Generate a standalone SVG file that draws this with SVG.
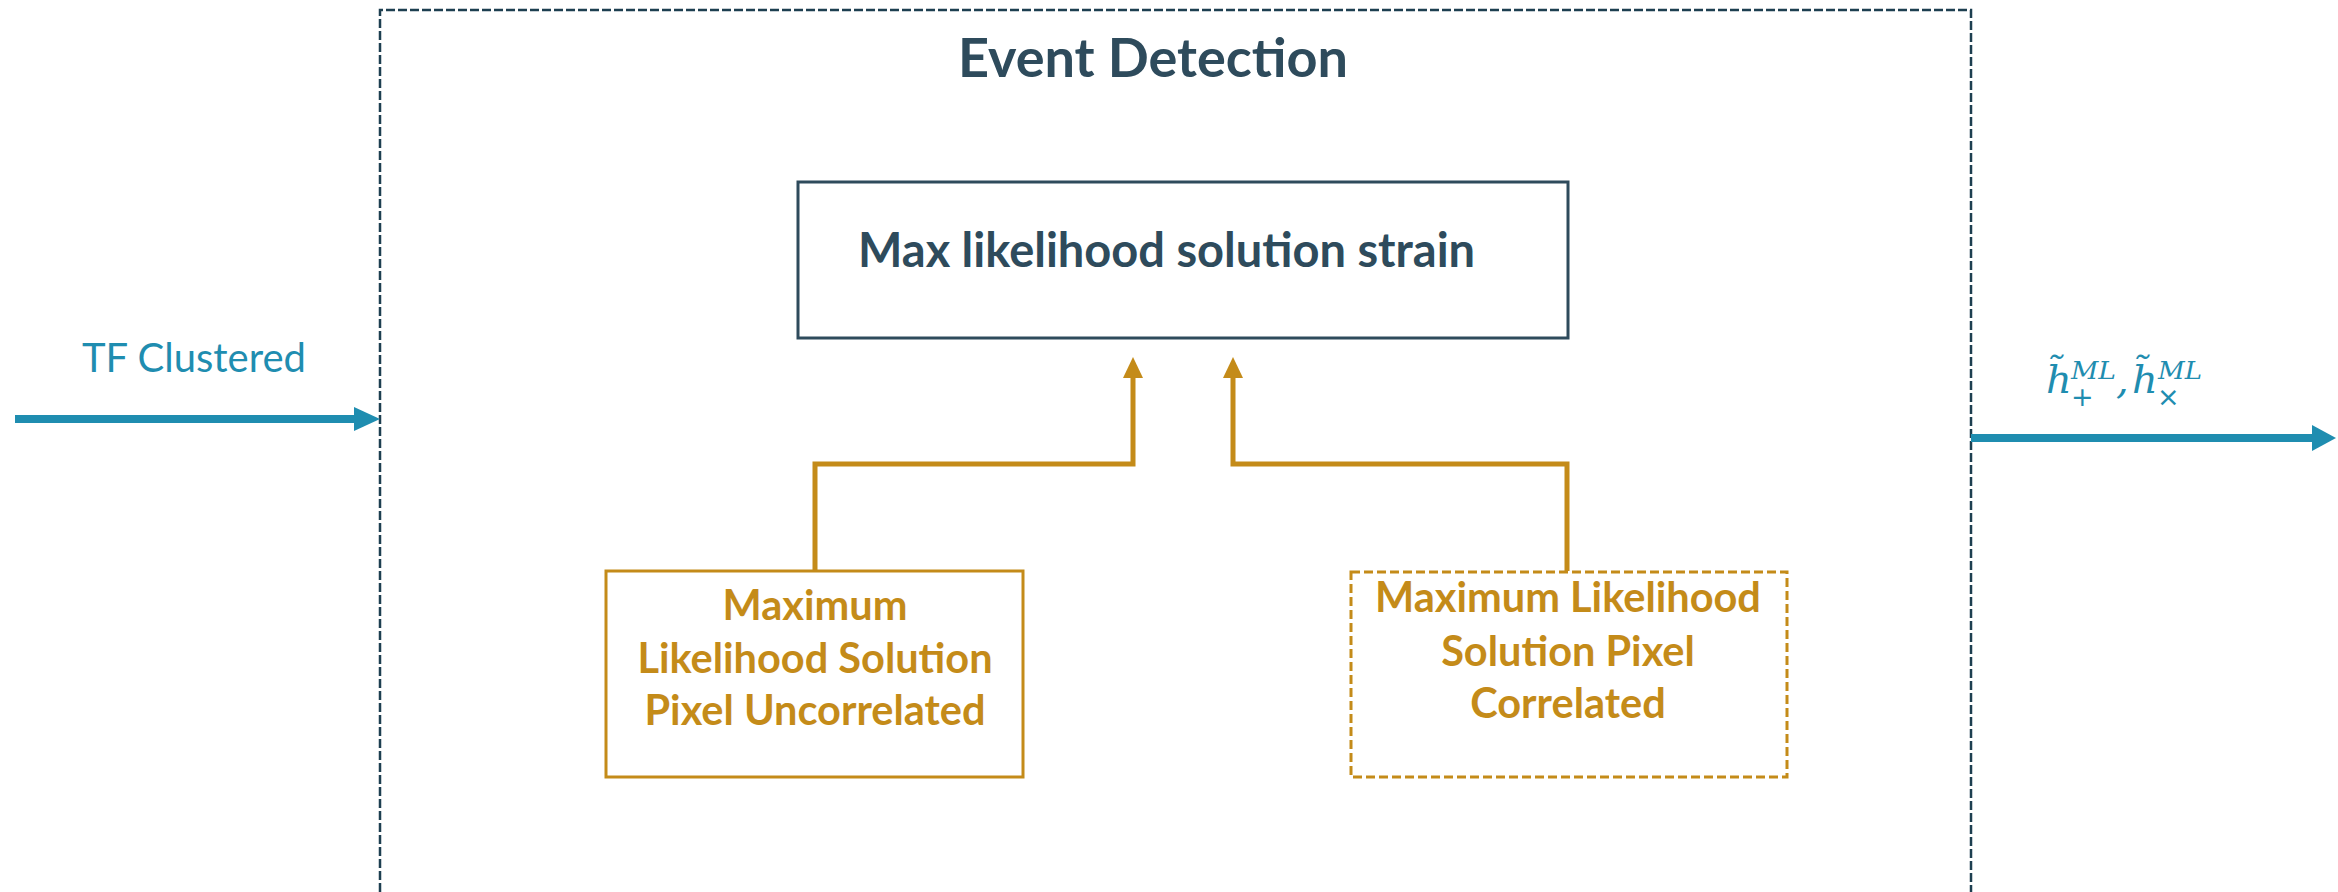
<svg xmlns="http://www.w3.org/2000/svg" width="2338" height="892" viewBox="0 0 2338 892">
<style>
.dark{fill:#2e4b5c;font-family:Lato,"Open Sans",sans-serif;font-weight:bold}
.gold{fill:#c48b19;font-family:Lato,"Open Sans",sans-serif;font-weight:bold;font-size:41.5px;text-anchor:middle}
.blue{fill:#1f8db0;font-family:Lato,"Open Sans",sans-serif;font-size:40px}
.math{fill:#1f8db0;font-family:"DejaVu Serif","Liberation Serif",serif;font-style:italic}
.sym{fill:#1f8db0;font-family:"DejaVu Sans","Liberation Sans",sans-serif}
.gline{fill:none;stroke:#c48b19;stroke-width:5}
.bline{fill:none;stroke:#1f8db0;stroke-width:8}
</style>
<rect width="2338" height="892" fill="#ffffff"/>
<g id="event-detection">
<path d="M380,892 V10 H1971 V892" fill="none" stroke="#1d3f50" stroke-width="2.5" stroke-dasharray="9 3"/>
<text class="dark" x="1153" y="77" font-size="54" text-anchor="middle">Event Detection</text>
</g>
<g id="max-likelihood-strain">
<rect x="798" y="182" width="770" height="156" fill="none" stroke="#2e4b5c" stroke-width="3"/>
<text class="dark" x="858" y="267" font-size="47">Max likelihood solution strain</text>
</g>
<g id="ml-pixel-uncorrelated">
<rect x="606" y="571" width="417" height="206" fill="none" stroke="#c48b19" stroke-width="3"/>
<text class="gold" x="815" y="620">Maximum</text>
<text class="gold" x="815" y="673">Likelihood Solution</text>
<text class="gold" x="815" y="725">Pixel Uncorrelated</text>
</g>
<g id="ml-pixel-correlated">
<rect x="1351" y="572" width="436" height="205" fill="none" stroke="#c48b19" stroke-width="3" stroke-dasharray="9 4"/>
<text class="gold" x="1568" y="612">Maximum Likelihood</text>
<text class="gold" x="1568" y="666">Solution Pixel</text>
<text class="gold" x="1568" y="718">Correlated</text>
</g>
<g id="input-label">
<text class="blue" x="82" y="372">TF Clustered</text>
</g>
<g id="output-label">
<text class="math" x="2046" y="393" font-size="40">h̃</text>
<text class="math" x="2071" y="379" font-size="25" textLength="45" lengthAdjust="spacingAndGlyphs">ML</text>
<text class="sym" x="2071" y="406" font-size="27">+</text>
<text class="math" x="2116" y="393" font-size="40">,</text>
<text class="math" x="2132" y="393" font-size="40">h̃</text>
<text class="math" x="2158" y="379" font-size="25" textLength="44" lengthAdjust="spacingAndGlyphs">ML</text>
<text class="sym" x="2157" y="406" font-size="27">×</text>
</g>
<g id="connectors">
<line class="bline" x1="15" y1="419" x2="356" y2="419"/>
<polygon points="354,407 380,419 354,431" fill="#1f8db0"/>
<line class="bline" x1="1971" y1="438" x2="2314" y2="438"/>
<polygon points="2312,425 2336,438 2312,451" fill="#1f8db0"/>
<path class="gline" d="M815,570 V464 H1133 V376"/>
<polygon points="1123,378 1133,357 1143,378" fill="#c48b19"/>
<path class="gline" d="M1567,571 V464 H1233 V376"/>
<polygon points="1223,378 1233,357 1243,378" fill="#c48b19"/>
</g>
</svg>
